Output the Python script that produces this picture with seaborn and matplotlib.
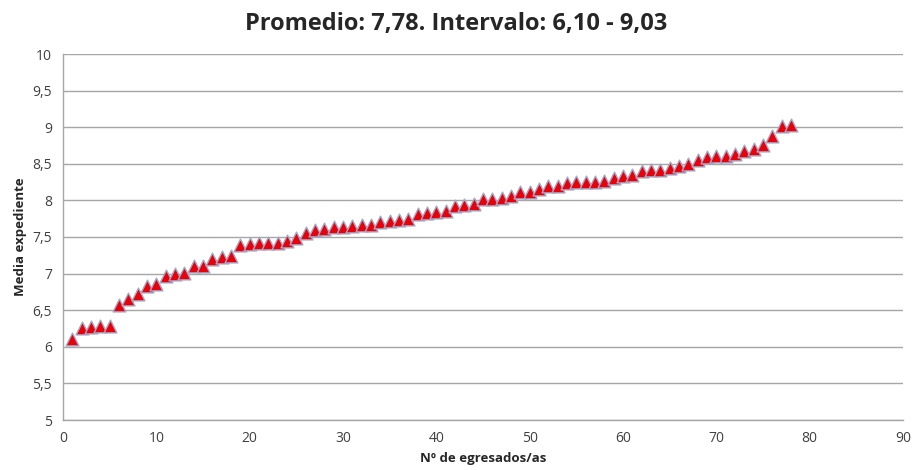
import matplotlib
matplotlib.use("Agg")
import matplotlib.pyplot as plt
from matplotlib.ticker import FuncFormatter, MultipleLocator
import seaborn as sns
import pandas as pd

# ── Data ─────────────────────────────────────────────────────────────────────
egresados = list(range(1, 79))
media = [
    6.10, 6.26, 6.27, 6.28, 6.28, 6.57, 6.65, 6.72, 6.83, 6.86,
    6.97, 7.00, 7.01, 7.10, 7.11, 7.20, 7.23, 7.24, 7.39, 7.40,
    7.42, 7.42, 7.42, 7.45, 7.48, 7.56, 7.59, 7.61, 7.63, 7.63,
    7.65, 7.66, 7.66, 7.70, 7.72, 7.73, 7.74, 7.81, 7.83, 7.84,
    7.86, 7.93, 7.94, 7.95, 8.02, 8.02, 8.03, 8.06, 8.12, 8.12,
    8.15, 8.20, 8.20, 8.24, 8.25, 8.25, 8.25, 8.27, 8.30, 8.34,
    8.35, 8.40, 8.41, 8.42, 8.44, 8.47, 8.50, 8.55, 8.59, 8.60,
    8.60, 8.64, 8.68, 8.70, 8.76, 8.88, 9.01, 9.03,
]
TITLE = "Promedio: 7,78. Intervalo: 6,10 - 9,03"

df = pd.DataFrame({"n": egresados, "media": media})

sns.set_style("white")
plt.rcParams["font.family"] = ["Open Sans", "DejaVu Sans"]

fig = plt.figure(figsize=(9.13, 4.70), dpi=100)
ax = fig.add_axes([63 / 913, 50 / 470, 840 / 913, 366 / 470])

sns.scatterplot(
    data=df, x="n", y="media", ax=ax,
    marker="^", s=85, color="#e8000b",
    edgecolor="#a3a9c6", linewidth=1.0, zorder=3,
)

ax.set_xlim(0, 90)
ax.set_ylim(5, 10)
ax.xaxis.set_major_locator(MultipleLocator(10))
ax.yaxis.set_major_locator(MultipleLocator(0.5))
comma = FuncFormatter(lambda v, p: f"{v:g}".replace(".", ","))
ax.yaxis.set_major_formatter(comma)
ax.xaxis.set_major_formatter(comma)

ax.grid(axis="y", color="#a6a6a6", lw=1.0)
ax.set_axisbelow(True)
for side in ("top", "right"):
    ax.spines[side].set_visible(False)
for side in ("left", "bottom"):
    ax.spines[side].set_color("#a6a6a6")
    ax.spines[side].set_linewidth(1.0)

ax.tick_params(axis="both", length=0, labelsize=10, colors="#404040", pad=8)
ax.set_xlabel("Nº de egresados/as", fontsize=9.5, fontweight="bold", labelpad=4)
ax.set_ylabel("Media expediente", fontsize=9.5, fontweight="bold", labelpad=4)
fig.suptitle(TITLE, x=0.5, y=0.975, fontsize=17, fontweight="bold", va="top")

fig.savefig("out.png", dpi=100)
